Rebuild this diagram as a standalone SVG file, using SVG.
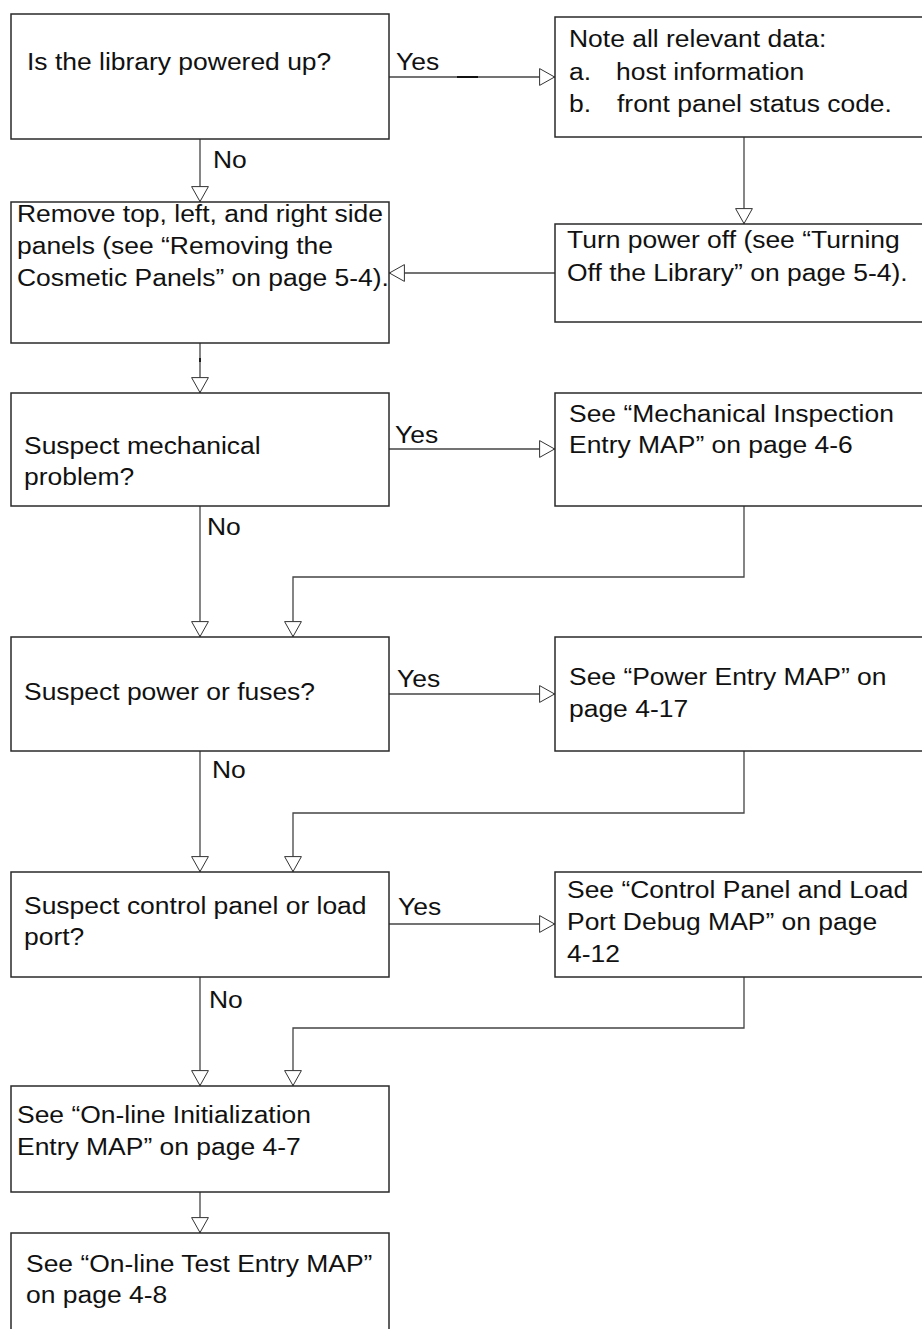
<svg xmlns="http://www.w3.org/2000/svg" width="922" height="1329" viewBox="0 0 922 1329">
<style>
.box{fill:#fff;stroke:#2a2a2a;stroke-width:1.5}
.t{font-family:"Liberation Sans",Arial,sans-serif;font-size:24.5px;fill:#111}
.c{fill:none;stroke:#444;stroke-width:1.3}
</style>
<defs>
<marker id="ah" viewBox="0 0 16 18" markerWidth="16" markerHeight="18" refX="16" refY="9" orient="auto" markerUnits="userSpaceOnUse">
<path d="M0.6,0.6 L15.6,9 L0.6,17.4 Z" fill="#fff" stroke="#333" stroke-width="1"/>
</marker>
</defs>
<rect width="922" height="1329" fill="#fff"/>

<g id="connectors">
<line class="c" x1="389" y1="77" x2="555" y2="77" marker-end="url(#ah)"/>
<line x1="457" y1="77" x2="478" y2="77" stroke="#111" stroke-width="2"/>
<line class="c" x1="200" y1="139" x2="200" y2="202" marker-end="url(#ah)"/>
<line class="c" x1="744" y1="137" x2="744" y2="224" marker-end="url(#ah)"/>
<line class="c" x1="555" y1="273" x2="389" y2="273" marker-end="url(#ah)"/>
<line class="c" x1="200" y1="343" x2="200" y2="393" marker-end="url(#ah)"/>
<line x1="200" y1="358" x2="200" y2="362" stroke="#111" stroke-width="1.8"/>
<line class="c" x1="389" y1="449" x2="555" y2="449" marker-end="url(#ah)"/>
<line class="c" x1="200" y1="506" x2="200" y2="637" marker-end="url(#ah)"/>
<polyline class="c" points="744,506 744,577 293,577 293,637" marker-end="url(#ah)"/>
<line class="c" x1="389" y1="694" x2="555" y2="694" marker-end="url(#ah)"/>
<line class="c" x1="200" y1="751" x2="200" y2="872" marker-end="url(#ah)"/>
<polyline class="c" points="744,751 744,813 293,813 293,872" marker-end="url(#ah)"/>
<line class="c" x1="389" y1="924" x2="555" y2="924" marker-end="url(#ah)"/>
<line class="c" x1="200" y1="977" x2="200" y2="1086" marker-end="url(#ah)"/>
<polyline class="c" points="744,977 744,1028 293,1028 293,1086" marker-end="url(#ah)"/>
<line class="c" x1="200" y1="1192" x2="200" y2="1233" marker-end="url(#ah)"/>
<text class="t" transform="translate(396,70) scale(1.08,1)">Yes</text>
<text class="t" transform="translate(213,168) scale(1.08,1)">No</text>
<text class="t" transform="translate(395,443) scale(1.08,1)">Yes</text>
<text class="t" transform="translate(207,535) scale(1.08,1)">No</text>
<text class="t" transform="translate(397,687) scale(1.08,1)">Yes</text>
<text class="t" transform="translate(212,778) scale(1.08,1)">No</text>
<text class="t" transform="translate(398,915) scale(1.08,1)">Yes</text>
<text class="t" transform="translate(209,1008) scale(1.08,1)">No</text>
</g>

<g id="powered">
<rect class="box" x="11" y="14" width="378" height="125"/>
<text class="t" transform="translate(27,70) scale(1.08,1)">Is the library powered up?</text>
</g>

<g id="note">
<rect class="box" x="555" y="17" width="380" height="120"/>
<text class="t" transform="translate(569,47) scale(1.08,1)">Note all relevant data:</text>
<text class="t" transform="translate(569,80) scale(1.08,1)">a.</text>
<text class="t" transform="translate(616,80) scale(1.08,1)">host information</text>
<text class="t" transform="translate(569,112) scale(1.08,1)">b.</text>
<text class="t" transform="translate(617,112) scale(1.08,1)">front panel status code.</text>
</g>

<g id="remove">
<rect class="box" x="11" y="202" width="378" height="141"/>
<text class="t" transform="translate(17,222) scale(1.08,1)">Remove top, left, and right side</text>
<text class="t" transform="translate(17,254) scale(1.08,1)">panels (see “Removing the</text>
<text class="t" transform="translate(17,286) scale(1.08,1)">Cosmetic Panels” on page 5-4).</text>
</g>

<g id="turnoff">
<rect class="box" x="555" y="224" width="380" height="98"/>
<text class="t" transform="translate(567,248) scale(1.08,1)">Turn power off (see “Turning</text>
<text class="t" transform="translate(567,281) scale(1.08,1)">Off the Library” on page 5-4).</text>
</g>

<g id="mechq">
<rect class="box" x="11" y="393" width="378" height="113"/>
<text class="t" transform="translate(24,454) scale(1.08,1)">Suspect mechanical</text>
<text class="t" transform="translate(24,485) scale(1.08,1)">problem?</text>
</g>

<g id="mechmap">
<rect class="box" x="555" y="393" width="380" height="113"/>
<text class="t" transform="translate(569,422) scale(1.08,1)">See “Mechanical Inspection</text>
<text class="t" transform="translate(569,453) scale(1.08,1)">Entry MAP” on page 4-6</text>
</g>

<g id="powerq">
<rect class="box" x="11" y="637" width="378" height="114"/>
<text class="t" transform="translate(24,700) scale(1.08,1)">Suspect power or fuses?</text>
</g>

<g id="powermap">
<rect class="box" x="555" y="637" width="380" height="114"/>
<text class="t" transform="translate(569,685) scale(1.08,1)">See “Power Entry MAP” on</text>
<text class="t" transform="translate(569,717) scale(1.08,1)">page 4-17</text>
</g>

<g id="controlq">
<rect class="box" x="11" y="872" width="378" height="105"/>
<text class="t" transform="translate(24,914) scale(1.08,1)">Suspect control panel or load</text>
<text class="t" transform="translate(24,945) scale(1.08,1)">port?</text>
</g>

<g id="controlmap">
<rect class="box" x="555" y="872" width="380" height="105"/>
<text class="t" transform="translate(567,898) scale(1.08,1)">See “Control Panel and Load</text>
<text class="t" transform="translate(567,930) scale(1.08,1)">Port Debug MAP” on page</text>
<text class="t" transform="translate(567,962) scale(1.08,1)">4-12</text>
</g>

<g id="initmap">
<rect class="box" x="11" y="1086" width="378" height="106"/>
<text class="t" transform="translate(17,1123) scale(1.08,1)">See “On-line Initialization</text>
<text class="t" transform="translate(17,1155) scale(1.08,1)">Entry MAP” on page 4-7</text>
</g>

<g id="testmap">
<rect class="box" x="11" y="1233" width="378" height="110"/>
<text class="t" transform="translate(26,1272) scale(1.08,1)">See “On-line Test Entry MAP”</text>
<text class="t" transform="translate(26,1303) scale(1.08,1)">on page 4-8</text>
</g>
</svg>
